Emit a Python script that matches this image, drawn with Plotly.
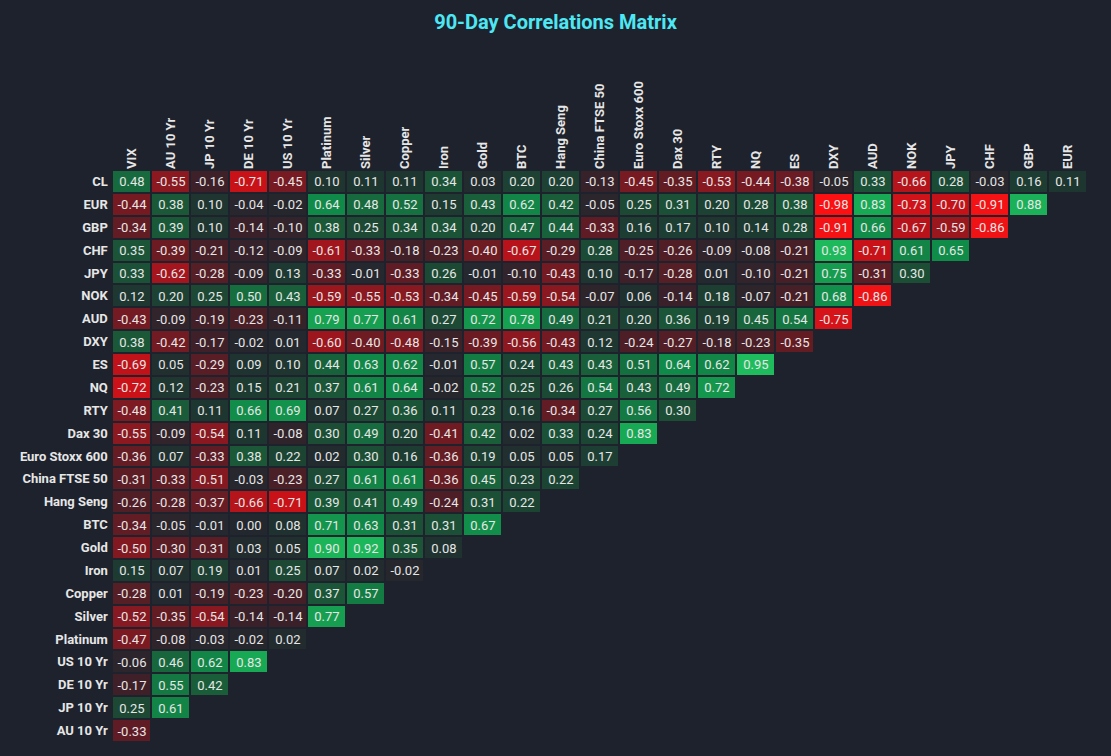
import plotly.graph_objects as go

cols = ["VIX","AU 10 Yr","JP 10 Yr","DE 10 Yr","US 10 Yr","Platinum","Silver","Copper","Iron","Gold","BTC","Hang Seng","China FTSE 50","Euro Stoxx 600","Dax 30","RTY","NQ","ES","DXY","AUD","NOK","JPY","CHF","GBP","EUR"]
rows = ["CL","EUR","GBP","CHF","JPY","NOK","AUD","DXY","ES","NQ","RTY","Dax 30","Euro Stoxx 600","China FTSE 50","Hang Seng","BTC","Gold","Iron","Copper","Silver","Platinum","US 10 Yr","DE 10 Yr","JP 10 Yr","AU 10 Yr"]

r_CL = [0.48,-0.55,-0.16,-0.71,-0.45,0.10,0.11,0.11,0.34,0.03,0.20,0.20,-0.13,-0.45,-0.35,-0.53,-0.44,-0.38,-0.05,0.33,-0.66,0.28,-0.03,0.16,0.11]
r_EUR = [-0.44,0.38,0.10,-0.04,-0.02,0.64,0.48,0.52,0.15,0.43,0.62,0.42,-0.05,0.25,0.31,0.20,0.28,0.38,-0.98,0.83,-0.73,-0.70,-0.91,0.88]
r_GBP = [-0.34,0.39,0.10,-0.14,-0.10,0.38,0.25,0.34,0.34,0.20,0.47,0.44,-0.33,0.16,0.17,0.10,0.14,0.28,-0.91,0.66,-0.67,-0.59,-0.86]
r_CHF = [0.35,-0.39,-0.21,-0.12,-0.09,-0.61,-0.33,-0.18,-0.23,-0.40,-0.67,-0.29,0.28,-0.25,-0.26,-0.09,-0.08,-0.21,0.93,-0.71,0.61,0.65]
r_JPY = [0.33,-0.62,-0.28,-0.09,0.13,-0.33,-0.01,-0.33,0.26,-0.01,-0.10,-0.43,0.10,-0.17,-0.28,0.01,-0.10,-0.21,0.75,-0.31,0.30]
r_NOK = [0.12,0.20,0.25,0.50,0.43,-0.59,-0.55,-0.53,-0.34,-0.45,-0.59,-0.54,-0.07,0.06,-0.14,0.18,-0.07,-0.21,0.68,-0.86]
r_AUD = [-0.43,-0.09,-0.19,-0.23,-0.11,0.79,0.77,0.61,0.27,0.72,0.78,0.49,0.21,0.20,0.36,0.19,0.45,0.54,-0.75]
r_DXY = [0.38,-0.42,-0.17,-0.02,0.01,-0.60,-0.40,-0.48,-0.15,-0.39,-0.56,-0.43,0.12,-0.24,-0.27,-0.18,-0.23,-0.35]
r_ES = [-0.69,0.05,-0.29,0.09,0.10,0.44,0.63,0.62,-0.01,0.57,0.24,0.43,0.43,0.51,0.64,0.62,0.95]
r_NQ = [-0.72,0.12,-0.23,0.15,0.21,0.37,0.61,0.64,-0.02,0.52,0.25,0.26,0.54,0.43,0.49,0.72]
r_RTY = [-0.48,0.41,0.11,0.66,0.69,0.07,0.27,0.36,0.11,0.23,0.16,-0.34,0.27,0.56,0.30]
r_DAX = [-0.55,-0.09,-0.54,0.11,-0.08,0.30,0.49,0.20,-0.41,0.42,0.02,0.33,0.24,0.83]
r_STOXX = [-0.36,0.07,-0.33,0.38,0.22,0.02,0.30,0.16,-0.36,0.19,0.05,0.05,0.17]
r_FTSE = [-0.31,-0.33,-0.51,-0.03,-0.23,0.27,0.61,0.61,-0.36,0.45,0.23,0.22]
r_HS = [-0.26,-0.28,-0.37,-0.66,-0.71,0.39,0.41,0.49,-0.24,0.31,0.22]
r_BTC = [-0.34,-0.05,-0.01,0.00,0.08,0.71,0.63,0.31,0.31,0.67]
r_GOLD = [-0.50,-0.30,-0.31,0.03,0.05,0.90,0.92,0.35,0.08]
r_IRON = [0.15,0.07,0.19,0.01,0.25,0.07,0.02,-0.02]
r_COPPER = [-0.28,0.01,-0.19,-0.23,-0.20,0.37,0.57]
r_SILVER = [-0.52,-0.35,-0.54,-0.14,-0.14,0.77]
r_PLAT = [-0.47,-0.08,-0.03,-0.02,0.02]
r_US10 = [-0.06,0.46,0.62,0.83]
r_DE10 = [-0.17,0.55,0.42]
r_JP10 = [0.25,0.61]
r_AU10 = [-0.33]

all_rows = [r_CL,r_EUR,r_GBP,r_CHF,r_JPY,r_NOK,r_AUD,r_DXY,r_ES,r_NQ,r_RTY,r_DAX,r_STOXX,r_FTSE,r_HS,r_BTC,r_GOLD,r_IRON,r_COPPER,r_SILVER,r_PLAT,r_US10,r_DE10,r_JP10,r_AU10]
z = [r + [None]*(len(cols)-len(r)) for r in all_rows]

cs = [[0.0,"#ff1010"],[0.1,"#e81418"],[0.15,"#c41218"],[0.22,"#8e1820"],[0.3,"#6e1b22"],[0.42,"#3d2028"],[0.5,"#23282e"],
      [0.55,"#1e3530"],[0.7,"#1a5a38"],[0.82,"#108a48"],[1.0,"#20c460"]]

fig = go.Figure(go.Heatmap(
    z=z, x=cols, y=rows, zmin=-1, zmax=1, colorscale=cs, showscale=False,
    xgap=2, ygap=2, texttemplate="%{z:.2f}", textfont=dict(color="#e6e6e6", size=13),
    hoverongaps=False))
fig.update_layout(
    width=1111, height=756, paper_bgcolor="#1e222d", plot_bgcolor="#1e222d",
    font=dict(family="Roboto", color="#e6e6e6", size=13),
    title=dict(text="<b>90-Day Correlations Matrix</b>", x=0.5, y=0.971, yanchor="middle",
               font=dict(color="#4de8f4", size=20)),
    margin=dict(l=112, r=24, t=170, b=14),
    xaxis=dict(side="top", tickangle=-90, showgrid=False, zeroline=False,
               tickfont=dict(size=13, color="#e6e6e6", weight="bold")),
    yaxis=dict(autorange="reversed", showgrid=False, zeroline=False,
               tickfont=dict(size=13, color="#e6e6e6", weight="bold"), ticksuffix=" "),
)
fig.write_html("out.html", config={"displayModeBar": False},
               post_script="document.body.style.margin='0';document.body.style.background='#1e222d';")
